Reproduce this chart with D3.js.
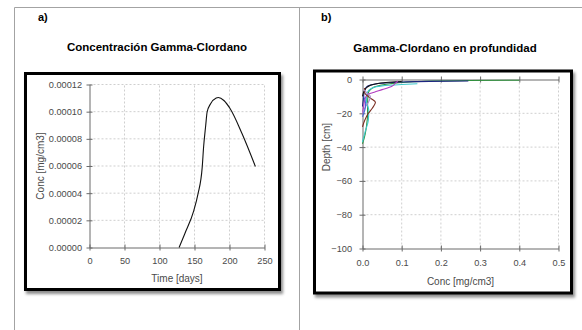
<!DOCTYPE html>
<html>
<head>
<meta charset="utf-8">
<script src="https://cdn.jsdelivr.net/npm/d3@7"></script>
<style>
  body { margin: 0; background: #fff; }
  svg { display: block; font-family: "Liberation Sans", Arial, sans-serif; }
</style>
</head>
<body>
<svg id="chart" width="582" height="330"></svg>
<script>
// panel a) - concentration over time
const timeDays = [128, 136, 149, 155, 161, 163, 166, 168, 173, 181, 184, 192, 201, 218, 237];
const concTime = [0, 0.0000100, 0.0000272, 0.0000395, 0.0000590, 0.0000740, 0.0000898, 0.0000996, 0.0001058, 0.0001100, 0.0001104, 0.0001082, 0.0001021, 0.0000837, 0.0000596];
const timeTicks = [0, 50, 100, 150, 200, 250];
const concTicks = [0, 0.00002, 0.00004, 0.00006, 0.00008, 0.0001, 0.00012];

// panel b) - depth profiles, [conc, depth]
const profileNames = ["green", "navy", "cyan", "black", "magenta", "brown", "lavender", "blue"];
const profileColors = ["#2f8f3c", "#1c2580", "#3fc9cc", "#111111", "#b23cc0", "#7a2d22", "#a58ccc", "#4a64dc"];
const profileGreen = [[0.40, -0.4], [0.27, -0.6], [0.15, -1.2], [0.07, -2.5], [0.03, -4.5], [0.015, -8], [0.013, -14], [0.013, -20], [0.010, -28], [0.004, -35], [0, -38]];
const profileNavy = [[0.27, -0.9], [0.17, -1.1], [0.10, -1.5], [0.05, -2.2], [0.02, -3.3], [0.008, -5], [0.004, -8], [0.002, -12], [0, -16]];
const profileCyan = [[0.14, -2.5], [0.10, -3], [0.05, -3.8], [0.025, -5], [0.012, -8], [0.010, -13], [0.016, -18], [0.015, -24], [0.008, -30], [0.002, -35], [0, -37]];
const profileBlack = [[0.10, -1.2], [0.06, -1.8], [0.03, -2.8], [0.012, -4.5], [0.004, -7], [0, -10]];
const profileMagenta = [[0.09, -1], [0.085, -2], [0.075, -4], [0.05, -6], [0.03, -7.5], [0.012, -9], [0.006, -12], [0.003, -16], [0, -20]];
const profileBrown = [[0.005, -5], [0.006, -8], [0.02, -11], [0.033, -13.5], [0.025, -17], [0.015, -20], [0.006, -24], [0, -28]];
const profileLavender = [[0.003, -6], [0.012, -8], [0.02, -10], [0.016, -13], [0.008, -16], [0, -20]];
const profileBlue = [[0.003, -10], [0.008, -14], [0.006, -18], [0, -22]];
const profiles = [profileGreen, profileNavy, profileCyan, profileBlack, profileMagenta, profileBrown, profileLavender, profileBlue];
const depthConcTicks = [0, 0.1, 0.2, 0.3, 0.4, 0.5];
const depthTicks = [0, -20, -40, -60, -80, -100];

const svg = d3.select("#chart");

// shadow for the framed plot boxes
const defs = svg.append("defs");
defs.append("filter").attr("id", "shadow")
  .attr("x", "-5%").attr("y", "-5%").attr("width", "115%").attr("height", "115%")
  .append("feDropShadow")
  .attr("dx", 2).attr("dy", 3).attr("stdDeviation", 1.5)
  .attr("flood-color", "#000").attr("flood-opacity", 0.45);

// table lines
const tbl = svg.append("g").attr("stroke", "#a3a3a3").attr("stroke-width", 1);
tbl.append("line").attr("x1", 14.5).attr("x2", 582).attr("y1", 7.5).attr("y2", 7.5);
tbl.append("line").attr("x1", 14.5).attr("x2", 14.5).attr("y1", 7.5).attr("y2", 330);
tbl.append("line").attr("x1", 299.5).attr("x2", 299.5).attr("y1", 7.5).attr("y2", 330);

// panel letters and titles
const txt = (x, y, s, size, anchor) => svg.append("text")
  .attr("x", x).attr("y", y).attr("font-size", size)
  .attr("text-anchor", anchor || "start").text(s);
txt(38, 21, "a)", 11).attr("font-weight", "bold");
txt(321, 21, "b)", 11).attr("font-weight", "bold");
txt(157, 51, "Concentración Gamma-Clordano", 11.5, "middle").attr("font-weight", "bold");
txt(445, 52, "Gamma-Clordano en profundidad", 11.5, "middle").attr("font-weight", "bold");

// frames
svg.append("rect").attr("x", 25.5).attr("y", 73.5).attr("width", 254).attr("height", 216)
  .attr("fill", "#fff").attr("stroke", "#000").attr("stroke-width", 3).attr("filter", "url(#shadow)");
svg.append("rect").attr("x", 314.5).attr("y", 71).attr("width", 257).attr("height", 222)
  .attr("fill", "#fff").attr("stroke", "#000").attr("stroke-width", 3).attr("filter", "url(#shadow)");

const axisColor = "#6a6a6a";
const labelColor = "#4a4a4a";

// make ticks cross the axis line and style them
function styleAxis(g, vertical) {
  g.select(".domain").attr("stroke", axisColor);
  g.selectAll(".tick line").attr("stroke", axisColor)
    .attr(vertical ? "x1" : "y1", -3).attr(vertical ? "x2" : "y2", 3);
  g.selectAll(".tick text").attr("fill", labelColor)
    .attr("font-size", 9.2).attr("font-family", "Liberation Sans, Arial, sans-serif");
}

function grid(g, xs, ys, xTicks, yTicks) {
  const gg = g.append("g").attr("stroke", "#cfcfcf").attr("stroke-dasharray", "2,2").attr("stroke-width", 1);
  xTicks.forEach(t => gg.append("line")
    .attr("x1", xs(t)).attr("x2", xs(t)).attr("y1", ys.range()[0]).attr("y2", ys.range()[1]));
  yTicks.forEach(t => gg.append("line")
    .attr("x1", xs.range()[0]).attr("x2", xs.range()[1]).attr("y1", ys(t)).attr("y2", ys(t)));
}

/*
  panel a
*/
const xA = d3.scaleLinear().domain([0, 250]).range([89.5, 264.5]);
const yA = d3.scaleLinear().domain([0, 0.00012]).range([247.5, 84.5]);
const gA = svg.append("g");
grid(gA, xA, yA, timeTicks.slice(1), concTicks.slice(1));

gA.append("g").attr("transform", `translate(0,${yA(0)})`)
  .call(d3.axisBottom(xA).tickValues(timeTicks).tickSizeOuter(0).tickPadding(4))
  .call(g => styleAxis(g, false));
gA.append("g").attr("transform", `translate(${xA(0)},0)`)
  .call(d3.axisLeft(yA).tickValues(concTicks).tickFormat(d3.format(".5f")).tickSizeOuter(0).tickPadding(1.5))
  .call(g => styleAxis(g, true));

gA.append("path").datum(timeDays.map((t, i) => [t, concTime[i]]))
  .attr("fill", "none").attr("stroke", "#111").attr("stroke-width", 1.1)
  .attr("d", d3.line().x(d => xA(d[0])).y(d => yA(d[1])).curve(d3.curveMonotoneX));

txt(xA(125), 282, "Time [days]", 10, "middle").attr("fill", labelColor);
svg.append("text").attr("transform", `translate(44,${yA(0.00006)}) rotate(-90)`)
  .attr("text-anchor", "middle").attr("font-size", 10).attr("fill", labelColor).text("Conc [mg/cm3]");

/*
  panel b
*/
const xB = d3.scaleLinear().domain([0, 0.5]).range([362.5, 558.5]);
const yB = d3.scaleLinear().domain([-100, 0]).range([248.5, 79.5]);
const gB = svg.append("g");
grid(gB, xB, yB, depthConcTicks.slice(1), depthTicks.slice(1, -1));

gB.append("g").attr("transform", `translate(0,${yB(-100)})`)
  .call(d3.axisBottom(xB).tickValues(depthConcTicks).tickFormat(d3.format(".1f")).tickSizeOuter(0).tickPadding(4.5))
  .call(g => styleAxis(g, false));
gB.append("g").attr("transform", `translate(0,${yB(0)})`)
  .call(d3.axisTop(xB).tickValues(depthConcTicks).tickFormat("").tickSizeOuter(0))
  .call(g => styleAxis(g, false));
gB.append("g").attr("transform", `translate(${xB(0)},0)`)
  .call(d3.axisLeft(yB).tickValues(depthTicks).tickSizeOuter(0).tickPadding(4.5))
  .call(g => styleAxis(g, true));

const lineB = d3.line().x(d => xB(d[0])).y(d => yB(d[1])).curve(d3.curveMonotoneY);
profiles.forEach((p, i) => {
  gB.append("path").datum(p)
    .attr("class", "profile " + profileNames[i])
    .attr("fill", "none").attr("stroke", profileColors[i]).attr("stroke-width", 1.1)
    .attr("d", lineB);
});

txt(xB(0.25), 285, "Conc [mg/cm3]", 10, "middle").attr("fill", labelColor);
svg.append("text").attr("transform", `translate(330,${yB(-40)}) rotate(-90)`)
  .attr("text-anchor", "middle").attr("font-size", 10).attr("fill", labelColor).text("Depth [cm]");
</script>
</body>
</html>
